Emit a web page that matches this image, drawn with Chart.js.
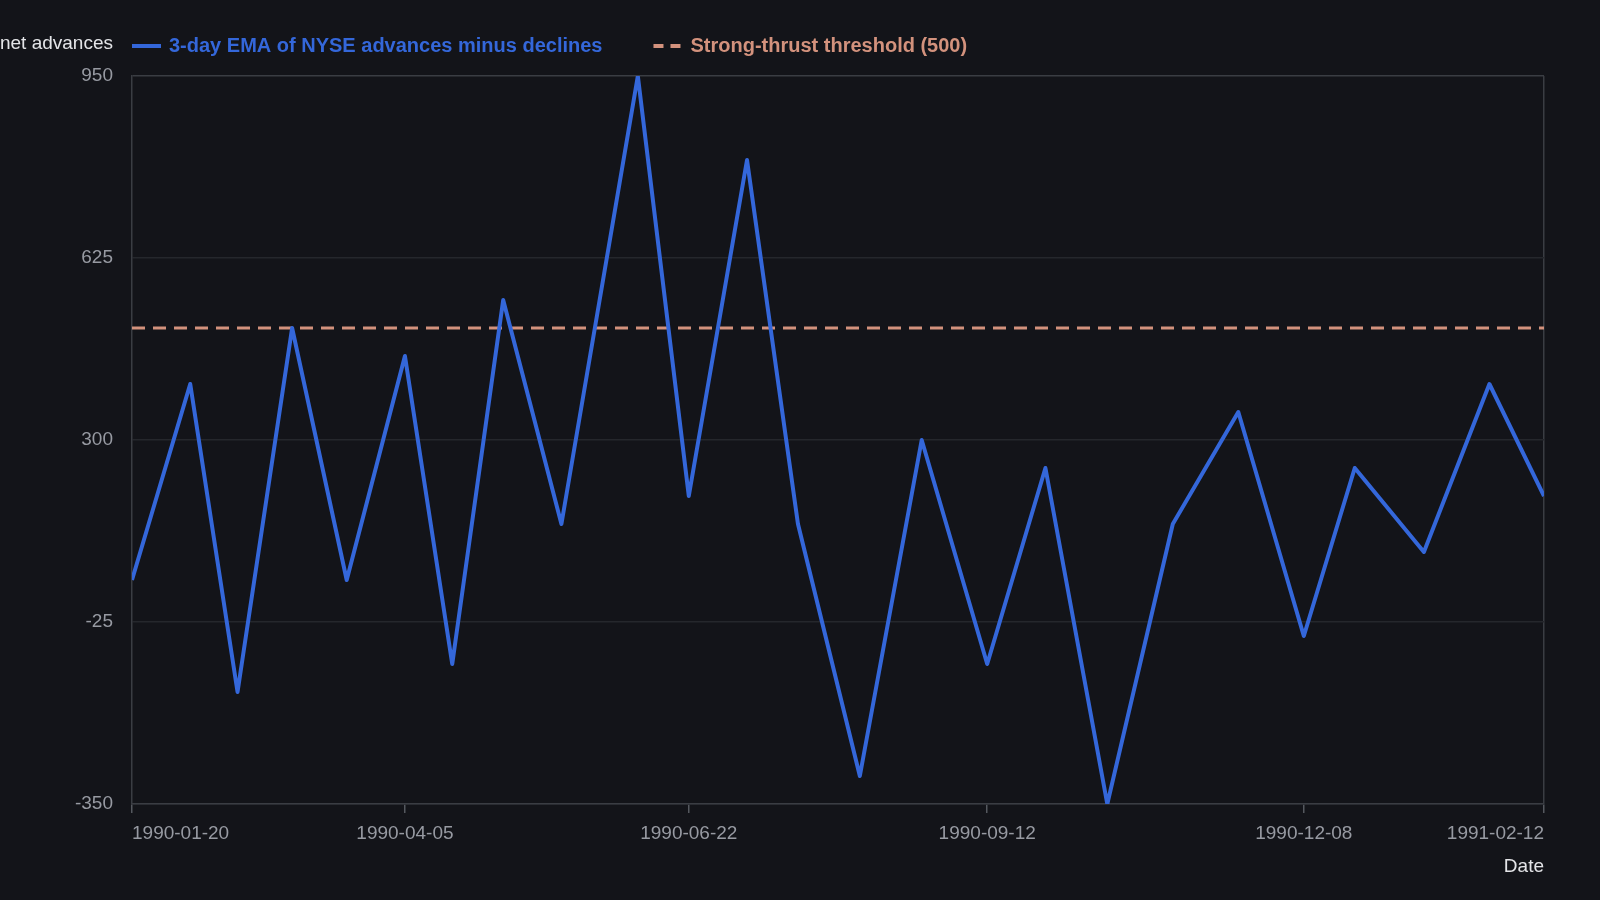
<!DOCTYPE html>
<html>
<head>
<meta charset="utf-8">
<script src="https://cdn.jsdelivr.net/npm/chart.js@4.4.1/dist/chart.umd.min.js"></script>
<style>
  html, body { margin: 0; padding: 0; background: #131419; }
  #wrap { width: 1600px; height: 900px; position: relative; }
</style>
</head>
<body>
<div id="wrap"><canvas id="c"></canvas></div>
<script>
// ---- data ----
const dates = ['1990-01-20','1990-02-05','1990-02-18','1990-03-05','1990-03-20','1990-04-05','1990-04-18','1990-05-02','1990-05-18','1990-06-08','1990-06-22','1990-07-08','1990-07-22','1990-08-08','1990-08-25','1990-09-12','1990-09-28','1990-10-15','1990-11-02','1990-11-20','1990-12-08','1990-12-22','1991-01-10','1991-01-28','1991-02-12'];
const emaValues = [50, 400, -150, 500, 50, 450, -100, 550, 150, 950, 200, 800, 150, -300, 300, -100, 250, -350, 150, 350, -50, 250, 100, 400, 200];
const thresholdValue = 500;
const xTickLabels = ['1990-01-20','1990-04-05','1990-06-22','1990-09-12','1990-12-08','1991-02-12'];
const yTickValues = [-350, -25, 300, 625, 950];
const seriesLabels = ['3-day EMA of NYSE advances minus declines', 'Strong-thrust threshold (500)'];
const yAxisLabel = 'net advances';
const xAxisLabel = 'Date';

// ---- helpers ----
const DAY = 86400000;
const toDay = s => Date.parse(s + 'T00:00:00Z') / DAY;
const fromDay = d => new Date(Math.round(d) * DAY).toISOString().slice(0, 10);

const FONT = "'Liberation Sans', Arial, Helvetica, sans-serif";
const BLUE = '#3467da';
const SALMON = '#d3927d';
const TICK = '#979aa2';
const GRID = '#25272c';
const AXIS = '#3a3d43';

const xMin = toDay(dates[0]);
const xMax = toDay(dates[dates.length - 1]);

const emaPoints = dates.map((d, i) => ({ x: toDay(d), y: emaValues[i] }));
const thresholdPoints = [{ x: xMin, y: thresholdValue }, { x: xMax, y: thresholdValue }];

const legendPlugin = {
  id: 'customLegend',
  afterDraw(chart) {
    const ctx = chart.ctx;
    ctx.save();
    const y = 46;
    // y-axis title at top-left
    ctx.font = `19px ${FONT}`;
    ctx.fillStyle = '#e4e5e8';
    ctx.textAlign = 'right';
    ctx.textBaseline = 'middle';
    ctx.fillText(yAxisLabel, 113, 44);

    ctx.font = `bold 20px ${FONT}`;
    ctx.textAlign = 'left';
    let x = chart.chartArea.left;
    chart.data.datasets.forEach((ds, i) => {
      ctx.save();
      ctx.strokeStyle = ds.borderColor;
      ctx.lineWidth = 4;
      ctx.setLineDash(ds.borderDash && ds.borderDash.length ? [10, 7] : []);
      ctx.beginPath();
      ctx.moveTo(x, y);
      ctx.lineTo(x + 29, y);
      ctx.stroke();
      ctx.restore();
      ctx.fillStyle = ds.borderColor;
      const tx = x + 37;
      ctx.fillText(ds.label, tx, y);
      x = tx + ctx.measureText(ds.label).width + 51;
    });
    ctx.restore();
  }
};

new Chart(document.getElementById('c'), {
  type: 'line',
  data: {
    datasets: [
      {
        label: seriesLabels[0],
        data: emaPoints,
        borderColor: BLUE,
        backgroundColor: BLUE,
        borderWidth: 4,
        borderJoinStyle: 'round',
        pointRadius: 0,
        tension: 0,
        fill: false
      },
      {
        label: seriesLabels[1],
        data: thresholdPoints,
        borderColor: SALMON,
        backgroundColor: SALMON,
        borderWidth: 3.2,
        borderDash: [13, 8],
        pointRadius: 0,
        tension: 0,
        fill: false
      }
    ]
  },
  options: {
    responsive: true,
    maintainAspectRatio: false,
    animation: false,
    parsing: false,
    layout: { padding: { left: 0, right: 56, top: 76, bottom: 0 } },
    plugins: {
      legend: { display: false },
      tooltip: { enabled: false }
    },
    scales: {
      x: {
        type: 'linear',
        min: xMin,
        max: xMax,
        afterBuildTicks(scale) {
          scale.ticks = xTickLabels.map(s => ({ value: toDay(s) }));
        },
        afterFit(scale) { scale.height = 96; },
        ticks: {
          autoSkip: false,
          maxRotation: 0,
          align: 'inner',
          color: TICK,
          padding: 9,
          font: { family: FONT, size: 19 },
          callback: v => fromDay(v)
        },
        grid: {
          drawOnChartArea: true,
          color: ctx => (ctx.index === xTickLabels.length - 1 ? AXIS : 'transparent'),
          tickColor: '#55585f',
          tickLength: 9,
          lineWidth: 1.5
        },
        border: { display: true, color: AXIS, width: 1.5 },
        title: {
          display: true,
          text: xAxisLabel,
          align: 'end',
          color: '#e4e5e8',
          font: { family: FONT, size: 19 },
          padding: { top: 0, bottom: 22 }
        }
      },
      y: {
        type: 'linear',
        min: -350,
        max: 950,
        afterBuildTicks(scale) {
          scale.ticks = yTickValues.map(v => ({ value: v }));
        },
        afterFit(scale) { scale.width = 132; },
        ticks: {
          color: TICK,
          padding: 19,
          font: { family: FONT, size: 19 }
        },
        grid: {
          color: ctx => (ctx.tick && ctx.tick.value === 950 ? AXIS : GRID),
          lineWidth: 1.5,
          drawTicks: false
        },
        border: { display: true, color: AXIS, width: 1.5 }
      }
    }
  },
  plugins: [legendPlugin]
});
</script>
</body>
</html>
